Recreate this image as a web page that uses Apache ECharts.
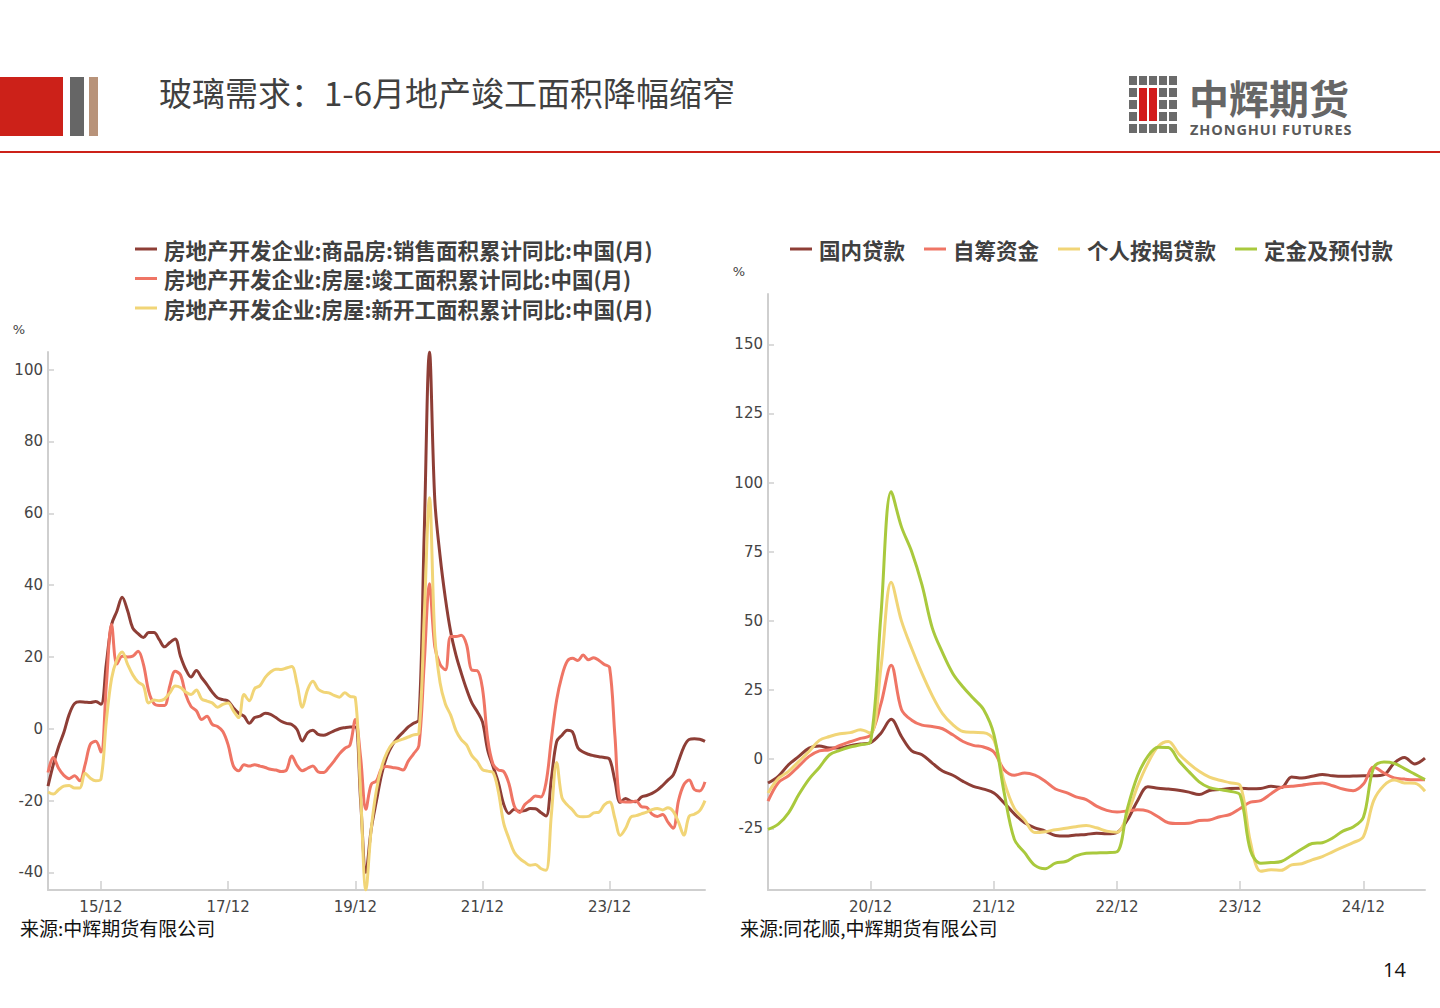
<!DOCTYPE html>
<html>
<head>
<meta charset="utf-8">
<script src="https://cdn.jsdelivr.net/npm/echarts@6/dist/echarts.min.js"></script>
<style>
html,body{margin:0;padding:0;width:1440px;height:1008px;background:#fff;overflow:hidden;font-family:"Noto Sans CJK SC","Noto Sans",sans-serif;}
#chart{position:absolute;left:0;top:0;width:1440px;height:1008px;}
.abs{position:absolute;}
#title{left:159px;top:70px;font-size:33px;line-height:44px;color:#404040;white-space:nowrap;}
.src{font-size:19px;line-height:24px;color:#111;white-space:nowrap;}
#logoText{left:1189px;top:77px;font-size:40px;line-height:40px;height:40px;font-weight:bold;color:#666;white-space:nowrap;}
#logoEn{left:1190px;top:122px;font-family:"Open Sans","Noto Sans",sans-serif;font-size:14.5px;line-height:15px;height:15px;font-weight:bold;color:#5a5a5a;letter-spacing:0.9px;white-space:nowrap;}
.sq{position:absolute;width:8px;height:9px;background:#6b6b6b;}
.rd{position:absolute;background:#d21c1c;}
</style>
</head>
<body>
<div id="chart"></div>
<div class="abs" style="left:0;top:77px;width:63px;height:59px;background:#cc2119;"></div>
<div class="abs" style="left:70px;top:77px;width:14px;height:59px;background:#666;"></div>
<div class="abs" style="left:89px;top:77px;width:9px;height:59px;background:#b8937a;"></div>
<div class="abs" style="left:0;top:151px;width:1440px;height:2px;background:#cc2119;"></div>
<div id="title" class="abs">玻璃需求：1-6月地产竣工面积降幅缩窄</div>
<div id="logo" class="abs" style="left:0;top:0;"></div>
<div id="logoText" class="abs">中辉期货</div>
<div id="logoEn" class="abs">ZHONGHUI FUTURES</div>
<div class="abs src" style="left:20px;top:916px;">来源:中辉期货有限公司</div>
<div class="abs src" style="left:740px;top:916px;">来源:同花顺,中辉期货有限公司</div>
<div class="abs" style="left:1383px;top:956px;font-family:'Open Sans',sans-serif;font-size:20px;line-height:28px;color:#111;">14</div>
<script>
// logo squares
(function(){
  var logo=document.getElementById('logo');
  var xs=[1129,1139,1149,1159,1169], ys=[76,88,100,112,124];
  for(var r=0;r<5;r++){for(var c=0;c<5;c++){
    if((c===1||c===2)&&r>=1&&r<=3) continue;
    var d=document.createElement('div');d.className='sq';d.style.left=xs[c]+'px';d.style.top=ys[r]+'px';logo.appendChild(d);
  }}
  [1139,1149].forEach(function(x){var d=document.createElement('div');d.className='rd';d.style.left=x+'px';d.style.top='88px';d.style.width='8px';d.style.height='33px';logo.appendChild(d);});
})();

function monthRange(y, m, n){
  var out=[];
  for(var k=0;k<n;k++){
    var mm=m+k, yy=y+Math.floor((mm-1)/12), mo=((mm-1)%12)+1;
    out.push(yy+'-'+(mo<10?'0':'')+mo);
  }
  return out;
}

// ---------- Left chart: monthly 2015-02 .. 2025-06 ----------
var leftMonths = monthRange(2015, 2, 125);
var leftNames = ['房地产开发企业:商品房:销售面积累计同比:中国(月)','房地产开发企业:房屋:竣工面积累计同比:中国(月)','房地产开发企业:房屋:新开工面积累计同比:中国(月)'];
var salesArea = [
 -16,-10,-5,-1,4,7,7.5,7.4,7.3,7.6,6.8,
 18,
 29,32.7,36.6,33,28,26.5,25.4,26.8,26.8,24.8,22.8,
 24,
 25,20.2,16.5,14.4,16.2,14.2,12.3,10.2,8.6,8.1,7.7,
 5.8,
 4.3,3.5,1.5,3.1,3.5,4.3,4.0,3.1,2.1,1.5,1.2,
 -0.2,
 -3.4,-1.1,-0.4,-1.6,-1.8,-1.3,-0.6,0,0.3,0.5,0.5,
 -20,
 -40,-28,-20,-12.5,-7.5,-4.5,-2.5,-1,0.5,1.5,2.5,
 54,
 104.9,63.8,48.1,36.3,27,20.5,15.5,11,7.2,4.8,1.9,
 -6,
 -10.5,-15,-21,-23.6,-22.4,-23,-22.8,-22.2,-22.3,-23.3,-24.3,
 -14,
 -3.6,-1.8,-0.4,-0.9,-5.3,-6.5,-7.1,-7.5,-7.8,-8.0,-8.5,
 -14.5,
 -20.5,-19.4,-20.2,-20.3,-19,-18.6,-18,-17.1,-15.8,-14.3,-12.9,
 -9,
 -5.1,-3,-2.8,-2.9,-3.5
];
var completedArea = [
 -12.2,-8,-11,-13,-13.9,-13.1,-14.5,-10,-4.3,-3.5,-6.5,
 12,
 29,18,20.2,20,20.2,21.6,18,10.5,7,6.5,6.5,
 12,
 16,15,9.5,6.2,5,2.6,3.5,1.2,0.6,-0.8,-4.5,
 -10.4,
 -11.7,-10,-10.4,-10,-10.4,-10.8,-11.3,-11.5,-11.9,-11.5,-7.6,
 -10.2,
 -11.7,-11,-10.4,-12,-12.2,-10.8,-9,-7,-5.5,-4.5,2.6,
 -8,
 -22.4,-15.5,-14.5,-11,-10.5,-10.8,-11,-11.5,-9,-7,-4.7,
 18,
 40.4,22.9,17.9,16.4,25.7,25.7,26,23.4,16.3,16.2,11.2,
 -3,
 -9.9,-11.5,-11.9,-15.3,-21.5,-23.3,-21.1,-19.9,-18.7,-19,-15,
 -3,
 8,14.7,18.8,19.6,19,20.5,19.2,19.8,19,17.9,17,
 -2,
 -20.2,-20.4,-20.4,-20.1,-21.7,-21.9,-23.8,-24.4,-23.9,-26,-27.7,
 -20,
 -15.6,-14.3,-16.9,-17.3,-14.8
];
var newStartArea = [
 -17.6,-18.2,-17,-16,-15.8,-16.5,-16.5,-12.4,-13.8,-14.5,-14,
 2,
 14,19.2,21.4,18,15,13,12,7.2,8,7.8,8.3,
 10,
 11.9,11.5,10.2,9.5,10.8,8.3,7.7,7.2,6,6.8,7.2,
 5,
 3.1,9.5,7.8,11.2,12,14.3,15.8,16.6,16.5,16.9,17.3,
 12.5,
 6,10.9,13.2,11,10.2,10,9.3,8.8,10,9,8.6,
 -18,
 -44.9,-28,-17,-10.5,-6.5,-4.2,-3.4,-2.9,-2.3,-1.7,-1.2,
 31,
 64.3,26,12.8,6.9,3.8,-0.5,-3,-4.5,-7.5,-9.1,-11.4,
 -11.8,
 -12.2,-17.5,-26.3,-30.6,-34.4,-36.1,-37.2,-38,-37.8,-38.9,-39.4,
 -24,
 -9.4,-19.2,-21.2,-22.6,-24.3,-24.5,-24.4,-23.4,-23.2,-21.2,-20.4,
 -25,
 -29.7,-27.8,-24.6,-24.2,-23.7,-23.2,-22.5,-22.2,-22.6,-22,-23,
 -26,
 -29.6,-24.4,-23.8,-22.8,-20
];
var leftYTicks = [-40,-20,0,20,40,60,80,100];

// ---------- Right chart: monthly 2020-02 .. 2025-06 ----------
var rightMonths = monthRange(2020, 2, 65);
var rightNames = ['国内贷款','自筹资金','个人按揭贷款','定金及预付款'];
var domesticLoans = [
 -8.6,-6.2,-2,1,4,4.8,4,4,4.9,5.5,6,
 9.4,14.4,8.2,3,1.6,-1.4,-4.3,-5.8,-8,-9.8,-10.8,-12.2,
 -15.8,-19.8,-23,-24.8,-26,-27.6,-27.8,-27.4,-27.2,-26.8,-27,-26.5,
 -22,-15,-10,-10.5,-10.8,-11.2,-11.9,-12.8,-11.3,-11,-10.6,-10.5,
 -10.7,-10.6,-9.8,-10.2,-6.4,-6.8,-6.2,-5.5,-6,-6.2,-6.1,-6,
 -6,-5.6,-1.4,0.6,-1.7,0.4
];
var selfRaised = [
 -15.2,-8.5,-6,-2.5,1,3,3.4,5,6.3,7.5,8.8,
 20,34,18,14.1,12.3,11.8,11,8.8,6.4,5,4.4,2.6,
 -3.8,-5.8,-5,-5.8,-8,-10.8,-12,-13.6,-14.6,-17,-18.5,-19.1,
 -18.7,-18.3,-18.8,-20.8,-23,-23.3,-23.2,-22.2,-22,-20.8,-20,-17.8,
 -15.5,-15,-12.5,-10.2,-9.8,-9.4,-8.9,-8.6,-9.6,-10.8,-11.4,-9,
 -2.8,-5,-6.8,-7.2,-7.4,-7.4
];
var mortgageLoans = [
 -12.2,-7,-4.4,-0.8,2.8,6.8,8.2,9.2,9.6,10.6,9.4,
 33,64,50,40,31,23,16.5,12.5,10,9.7,9.6,7,
 -8,-17.8,-22,-26.5,-26.2,-25.5,-25,-24.4,-24,-24.8,-26,-26.4,
 -20,-9.8,-1.5,4.6,6.4,2,-1.5,-4.4,-6.5,-7.6,-8.5,-9.5,
 -30,-40.5,-40,-40.2,-38.2,-37.8,-36.4,-35.2,-33.5,-31.8,-30.2,-28,
 -15,-9.5,-7.5,-8.6,-8.7,-11.6
];
var depositsAdvance = [
 -25.4,-23.5,-19.4,-12.8,-7.2,-3,1.6,3.2,4.4,5.2,6.4,
 52,96.7,84,75,63,47.5,38.5,31,26.1,22,18,9,
 -12,-29,-33.8,-38.4,-39.6,-37.6,-37,-35,-34,-33.9,-33.8,-33.5,
 -18,-6,1,4.3,4.2,-0.5,-4.5,-8.2,-10.3,-11,-11.6,-13,
 -33,-37.6,-37.4,-37,-34.8,-32.5,-30.5,-30.2,-28.5,-26,-24.5,-21,
 -3,-1,-1.5,-3.4,-5.4,-7.4
];
var rightYTicks = [-25,0,25,50,75,100,125,150];

var colors = ['#8e3e36','#ef7565','#f1d577','#a9c93d'];

var chart = echarts.init(document.getElementById('chart'), null, {renderer:'svg'});

var axisLabelStyle = {fontFamily:'DejaVu Sans', fontSize:15, color:'#444'};
function yAxisCfg(grid, min, max, ticks){
  return {
    gridIndex:grid, type:'value', min:min, max:max,
    name:'%', nameLocation:'end', nameGap:16,
    nameTextStyle:{align:'right', padding:[0,23,0,0], fontSize:13, color:'#444', fontFamily:'DejaVu Sans'},
    axisLine:{show:true, lineStyle:{color:'#cfcfcf', width:2}},
    axisTick:{show:true, inside:true, length:6, customValues:ticks, lineStyle:{color:'#cfcfcf', width:1.5}},
    axisLabel:Object.assign({customValues:ticks, margin:5}, axisLabelStyle),
    splitLine:{show:false}
  };
}
function xAxisCfg(grid, data, test){
  return {
    gridIndex:grid, type:'category', data:data, boundaryGap:false,
    axisLine:{show:true, onZero:false, lineStyle:{color:'#cfcfcf', width:2}},
    axisTick:{show:true, inside:true, length:9, interval:function(i,v){return test(v);}, lineStyle:{color:'#cfcfcf', width:1.5}},
    axisLabel:Object.assign({interval:function(i,v){return test(v);}, margin:9,
      formatter:function(v){return v.slice(2,4)+'/'+v.slice(5,7);}}, axisLabelStyle),
    splitLine:{show:false}
  };
}
function mk(name, data, color, xi){
  return {name:name, type:'line', data:data, xAxisIndex:xi, yAxisIndex:xi,
    showSymbol:false, symbol:'none', smooth:0.35, color:color,
    lineStyle:{width:3, color:color}, emphasis:{disabled:true}};
}

var legendText = {fontSize:21.5, lineHeight:22, fontWeight:'bold', color:'#404040', fontFamily:'Noto Sans CJK SC', padding:[0,0,0,2]};

chart.setOption({
  animation:false,
  backgroundColor:'transparent',
  legend:[
    {data:leftNames, orient:'vertical', left:135, top:238, padding:0, icon:'rect', itemWidth:22, itemHeight:3, itemGap:7.5, textStyle:legendText, selectedMode:false},
    {data:rightNames, orient:'horizontal', left:790, top:238, padding:0, icon:'rect', itemWidth:22, itemHeight:3, itemGap:19, textStyle:legendText, selectedMode:false}
  ],
  grid:[
    {left:48, top:352, width:657, height:538},
    {left:768, top:294, width:657, height:596}
  ],
  xAxis:[
    xAxisCfg(0, leftMonths, function(v){var y=+v.slice(0,4);return v.slice(5)==='12' && y%2===1;}),
    xAxisCfg(1, rightMonths, function(v){return v.slice(5)==='12';})
  ],
  yAxis:[
    yAxisCfg(0, -44.9, 104.9, leftYTicks),
    yAxisCfg(1, -47.3, 168.2, rightYTicks)
  ],
  series:[
    mk(leftNames[0], salesArea, colors[0], 0),
    mk(leftNames[1], completedArea, colors[1], 0),
    mk(leftNames[2], newStartArea, colors[2], 0),
    mk(rightNames[0], domesticLoans, colors[0], 1),
    mk(rightNames[1], selfRaised, colors[1], 1),
    mk(rightNames[2], mortgageLoans, colors[2], 1),
    mk(rightNames[3], depositsAdvance, colors[3], 1)
  ]
});
</script>
</body>
</html>
